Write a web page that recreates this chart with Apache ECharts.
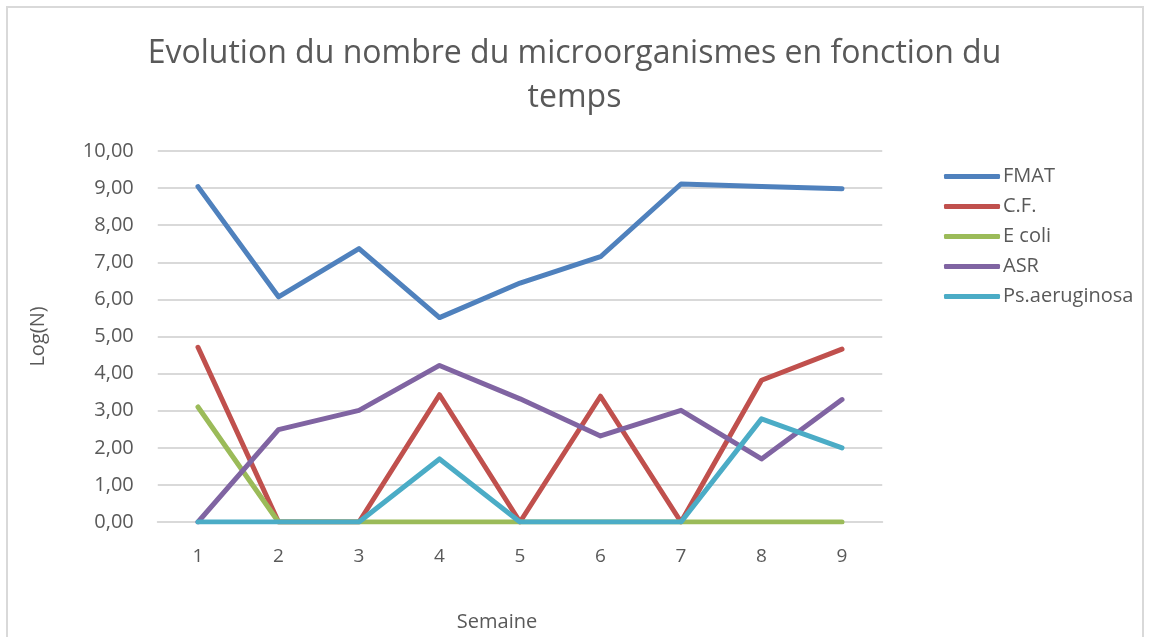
<!DOCTYPE html>
<html lang="fr">
<head>
    <meta charset="UTF-8">
    <title>Evolution du nombre du microorganismes</title>
    <script src="https://cdn.jsdelivr.net/npm/echarts@6.0.0/dist/echarts.min.js"></script>
    <style>
        html, body { margin: 0; padding: 0; background: #fff; }
        #chart { width: 1149px; height: 637px; }
    </style>
</head>
<body>
    <div id="chart"></div>
    <script>
        // données
        const semaines = ['1', '2', '3', '4', '5', '6', '7', '8', '9'];
        const fmat = [9.04, 6.07, 7.37, 5.51, 6.44, 7.15, 9.11, 9.04, 8.98];
        const cf = [4.71, 0, 0, 3.43, 0, 3.39, 0, 3.82, 4.66];
        const ecoli = [3.10, 0, 0, 0, 0, 0, 0, 0, 0];
        const asr = [0, 2.49, 3.01, 4.22, 3.32, 2.32, 3.01, 1.70, 3.30];
        const psAeruginosa = [0, 0, 0, 1.70, 0, 0, 0, 2.78, 2.00];

        const seriesNames = ['FMAT', 'C.F.', 'E coli', 'ASR', 'Ps.aeruginosa'];
        const seriesData = [fmat, cf, ecoli, asr, psAeruginosa];
        const colors = ['#4F81BD', '#C0504D', '#9BBB59', '#8064A2', '#4BACC6'];

        const textColor = '#595959';
        const font = "'Open Sans', sans-serif";

        const myChart = echarts.init(document.getElementById('chart'));

        const option = {
            animation: false,
            color: colors,
            title: {
                text: 'Evolution du nombre du microorganismes en fonction du\ntemps',
                left: 'center',
                top: 27,
                textStyle: {
                    fontFamily: font,
                    fontWeight: 'normal',
                    fontSize: 32,
                    lineHeight: 44,
                    color: textColor
                }
            },
            graphic: [{
                type: 'rect',
                shape: { x: 7, y: 7, width: 1136, height: 650 },
                style: { fill: 'none', stroke: '#d9d9d9', lineWidth: 2 },
                silent: true
            }],
            legend: {
                orient: 'vertical',
                left: 939,
                top: 160,
                itemWidth: 56,
                itemHeight: 5,
                itemGap: 7,
                icon: 'roundRect',
                textStyle: {
                    fontFamily: font,
                    fontSize: 20,
                    lineHeight: 23,
                    color: textColor,
                    padding: [0, 0, 0, -2]
                },
                data: seriesNames
            },
            grid: {
                left: 157.75,
                right: 266.75,
                top: 151,
                bottom: 115,
                containLabel: false
            },
            xAxis: {
                type: 'category',
                data: semaines,
                boundaryGap: true,
                name: 'Semaine',
                nameLocation: 'middle',
                nameGap: 90,
                nameTextStyle: {
                    fontFamily: font,
                    fontSize: 20,
                    color: textColor,
                    padding: [0, 46, 0, 0]
                },
                axisLine: { show: true, lineStyle: { color: '#d9d9d9', width: 2 } },
                axisTick: { show: false },
                axisLabel: {
                    fontFamily: font,
                    fontSize: 19,
                    color: textColor,
                    margin: 25
                }
            },
            yAxis: {
                type: 'value',
                min: 0,
                max: 10,
                interval: 1,
                name: 'Log(N)',
                nameLocation: 'middle',
                nameGap: 109,
                nameRotate: 90,
                nameTextStyle: {
                    fontFamily: font,
                    fontSize: 20,
                    color: textColor
                },
                axisLine: { show: false },
                axisTick: { show: false },
                axisLabel: {
                    fontFamily: font,
                    fontSize: 20,
                    color: textColor,
                    margin: 24,
                    formatter: v => v.toFixed(2).replace('.', ',')
                },
                splitLine: { lineStyle: { color: '#d9d9d9', width: 2 } }
            },
            series: seriesNames.map((name, i) => ({
                name: name,
                type: 'line',
                data: seriesData[i],
                showSymbol: false,
                symbol: 'none',
                lineStyle: { width: 5, cap: 'round', join: 'round', color: colors[i] },
                itemStyle: { color: colors[i] }
            }))
        };

        myChart.setOption(option);
    </script>
</body>
</html>
